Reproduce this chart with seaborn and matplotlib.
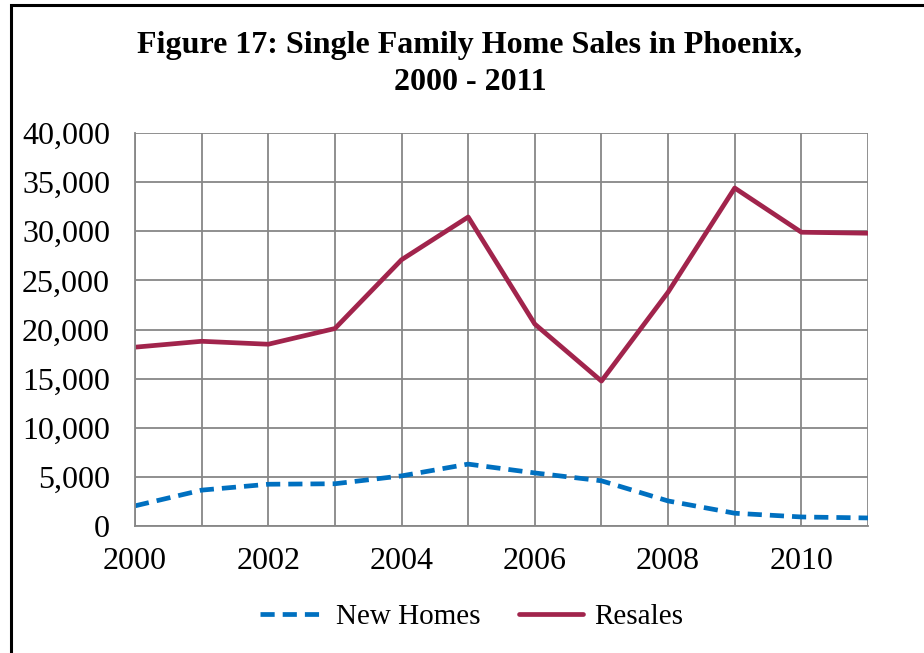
import matplotlib
matplotlib.use("Agg")
import matplotlib.pyplot as plt
import seaborn as sns
import pandas as pd
from matplotlib.patches import Rectangle
from matplotlib.lines import Line2D
from matplotlib.ticker import FuncFormatter, MultipleLocator

years = list(range(2000, 2012))
new_homes = [2050, 3650, 4250, 4300, 5100, 6300, 5400, 4600, 2550, 1300, 920, 820]
resales = [18200, 18800, 18500, 20100, 27100, 31450, 20550, 14750, 23800, 34400, 29900, 29800]
series_names = ["New Homes", "Resales"]
title_text = "Figure 17: Single Family Home Sales in Phoenix,\n2000 - 2011"

df = pd.concat([
    pd.DataFrame({"Year": years, "Sales": new_homes, "Series": series_names[0]}),
    pd.DataFrame({"Year": years, "Sales": resales, "Series": series_names[1]}),
])

sns.set_style("white")
plt.rcParams["font.family"] = ["Liberation Serif", "DejaVu Serif"]
plt.rcParams["text.color"] = "black"

fig = plt.figure(figsize=(9.24, 6.53), dpi=100)
ax = fig.add_axes([135/924, 1-526/653, (868-135)/924, (526-133)/653])

palette = {"New Homes": "#0070C0", "Resales": "#A1244C"}
sns.lineplot(data=df, x="Year", y="Sales", hue="Series", style="Series",
             palette=palette, dashes={"New Homes": (3, 1.7), "Resales": ""},
             linewidth=3.4, ax=ax, legend=False)

ax.set_xlim(2000, 2011)
ax.set_ylim(0, 40000)
ax.xaxis.set_major_locator(MultipleLocator(1))
ax.yaxis.set_major_locator(MultipleLocator(5000))
ax.xaxis.set_major_formatter(FuncFormatter(lambda v, p: f"{int(round(v))}" if int(round(v)) % 2 == 0 else ""))
ax.yaxis.set_major_formatter(FuncFormatter(lambda v, p: f"{int(v):,}"))
ax.grid(True, color="#878787", linewidth=1.3)
ax.set_axisbelow(True)
for s in ["top", "right"]:
    ax.spines[s].set_visible(False)
for s in ["left", "bottom"]:
    ax.spines[s].set_color("#878787")
    ax.spines[s].set_linewidth(1.3)
ax.tick_params(axis="both", which="major", direction="out", length=7, width=1.3,
               color="#878787", labelsize=23, labelcolor="black")
ax.tick_params(axis="x", pad=8)
ax.tick_params(axis="y", pad=11)
ax.set_xlabel("")
ax.set_ylabel("")

fig.text(470/924, 1-64/653, title_text, ha="center", va="center", color="black",
         fontsize=23, fontweight="bold", linespacing=1.32)

handles = [
    Line2D([], [], color=palette["New Homes"], linewidth=3.4, linestyle=(0, (3, 1.7))),
    Line2D([], [], color=palette["Resales"], linewidth=3.4),
]
fig.legend(handles, series_names, loc="center", bbox_to_anchor=(472/924, 1-617/653),
           ncol=2, frameon=False, fontsize=21, handlelength=2.2, handletextpad=0.4,
           columnspacing=1.3)

fig.patches.append(Rectangle((11/924, -0.2), 1.5, 1.2 - 5/653, transform=fig.transFigure,
                             fill=False, edgecolor="black", linewidth=2.2, figure=fig))

fig.savefig("out.png", dpi=100, facecolor="white")
